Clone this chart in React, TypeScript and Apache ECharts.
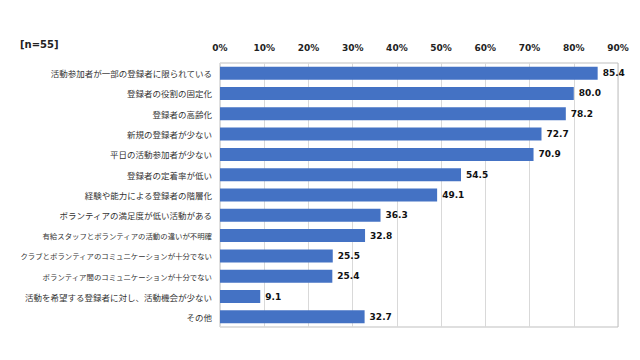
import React, { useEffect, useRef } from "react";
import * as echarts from "echarts";

const categories = [
  "活動参加者が一部の登録者に限られている",
  "登録者の役割の固定化",
  "登録者の高齢化",
  "新規の登録者が少ない",
  "平日の活動参加者が少ない",
  "登録者の定着率が低い",
  "経験や能力による登録者の階層化",
  "ボランティアの満足度が低い活動がある",
  "有給スタッフとボランティアの活動の違いが不明確",
  "クラブとボランティアのコミュニケーションが十分でない",
  "ボランティア間のコミュニケーションが十分でない",
  "活動を希望する登録者に対し、活動機会が少ない",
  "その他",
];
const values = [85.4, 80.0, 78.2, 72.7, 70.9, 54.5, 49.1, 36.3, 32.8, 25.5, 25.4, 9.1, 32.7];
const sampleLabel = "[n=55]";

function katakanaCount(s: string) {
  let n = 0;
  for (const ch of s) {
    const c = ch.charCodeAt(0);
    if (c >= 0x30a0 && c <= 0x30ff) n++;
  }
  return n;
}

export default function App() {
  const ref = useRef<HTMLDivElement>(null);
  useEffect(() => {
    if (!ref.current) return;
    const chart = echarts.init(ref.current, undefined, { renderer: "svg" });
    chart.setOption({
      animation: false,
      backgroundColor: "#ffffff",
      graphic: [
        {
          type: "text",
          left: 20,
          top: 39,
          style: {
            text: sampleLabel,
            font: "bold 10px 'DejaVu Sans', sans-serif",
            fill: "#222",
          },
        },
      ],
      grid: {
        left: 220,
        right: 22,
        top: 63,
        bottom: 33,
        show: true,
        borderColor: "#bfbfbf",
        borderWidth: 1,
        outerBoundsMode: "none",
        containLabel: false,
      },
      xAxis: {
        type: "value",
        position: "top",
        min: 0,
        max: 90,
        interval: 10,
        axisLine: { show: false },
        axisTick: { show: false },
        splitLine: { show: true, lineStyle: { color: "#d9d9d9", width: 1 } },
        axisLabel: {
          formatter: "{value}%",
          fontSize: 9,
          fontWeight: "bold",
          color: "#222",
          fontFamily: "'DejaVu Sans', sans-serif",
          margin: 11,
        },
      },
      yAxis: {
        type: "category",
        data: categories,
        inverse: true,
        axisLine: { show: false },
        axisTick: { show: false },
        axisLabel: {
          color: "#333",
          fontFamily: "'Noto Sans CJK JP', sans-serif",
          margin: 8,
          formatter: (v: string) => (katakanaCount(v) >= 8 ? `{b|${v}}` : `{a|${v}}`),
          rich: {
            a: { fontSize: 8.5, color: "#333", fontFamily: "'Noto Sans CJK JP', sans-serif" },
            b: { fontSize: 7.4, color: "#333", fontFamily: "'Noto Sans CJK JP', sans-serif" },
          },
        },
      },
      series: [
        {
          type: "bar",
          data: values,
          barCategoryGap: "36%",
          itemStyle: { color: "#4472C4" },
          label: {
            show: true,
            position: "right",
            distance: 5,
            formatter: (p: any) => Number(p.value).toFixed(1),
            fontSize: 9,
            fontWeight: "bold",
            color: "#111",
            fontFamily: "'DejaVu Sans', sans-serif",
          },
        },
      ],
    });
    return () => chart.dispose();
  }, []);
  return <div ref={ref} style={{ width: 640, height: 360, position: "absolute", left: 0, top: 0 }} />;
}
